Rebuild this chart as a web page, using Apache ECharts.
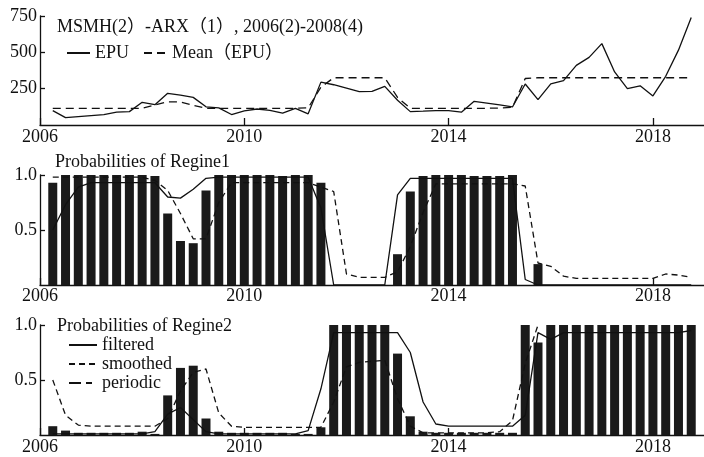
<!DOCTYPE html>
<html>
<head>
<meta charset="utf-8">
<script src="https://cdn.jsdelivr.net/npm/echarts@6/dist/echarts.min.js"></script>
<style>
  html, body { margin: 0; padding: 0; background: #fff; }
  #chart { width: 704px; height: 457px; }
</style>
</head>
<body>
<div id="chart"></div>
<script>
// quarterly axis, 2006Q1 .. 2019Q1
const quarters = [
  '2006Q1','2006Q2','2006Q3','2006Q4',
  '2007Q1','2007Q2','2007Q3','2007Q4',
  '2008Q1','2008Q2','2008Q3','2008Q4',
  '2009Q1','2009Q2','2009Q3','2009Q4',
  '2010Q1','2010Q2','2010Q3','2010Q4',
  '2011Q1','2011Q2','2011Q3','2011Q4',
  '2012Q1','2012Q2','2012Q3','2012Q4',
  '2013Q1','2013Q2','2013Q3','2013Q4',
  '2014Q1','2014Q2','2014Q3','2014Q4',
  '2015Q1','2015Q2','2015Q3','2015Q4',
  '2016Q1','2016Q2','2016Q3','2016Q4',
  '2017Q1','2017Q2','2017Q3','2017Q4',
  '2018Q1','2018Q2','2018Q3','2018Q4',
  '2019Q1'
];
const yearTicks = ['2006Q1', '2010Q1', '2014Q1', '2018Q1'];

const epu = [
  null, 99, 51, 58,
  65, 72, 88, 92,
  156, 140, 218, 205,
  190, 125, 118, 72,
  97, 110, 100, 81,
  115, 77, 295, 277,
  253, 229, 231, 266,
  170, 92, 95, 99,
  99, 88, 163, 151,
  138, 124, 282, 175,
  283, 305, 410, 465,
  560, 365, 250, 270,
  200, 335, 515, 740,
  null
];
const epuMean = [
  null, 115, 115, 115,
  115, 115, 115, 115,
  115, 138, 160, 158,
  135, 115, 115, 115,
  115, 115, 115, 115,
  115, 118, 260, 325,
  325, 325, 325, 325,
  190, 115, 115, 115,
  115, 115, 115, 115,
  117, 122, 320, 325,
  325, 325, 325, 325,
  325, 325, 325, 325,
  325, 325, 325, 325,
  null
];

const regime1Bars = [
  null, 0.93, 1.0, 1.0,
  1.0, 1.0, 1.0, 1.0,
  1.0, 0.99, 0.65, 0.40,
  0.38, 0.86, 1.0, 1.0,
  1.0, 1.0, 1.0, 0.99,
  1.0, 1.0, 0.93, 0,
  0, 0, 0, 0,
  0.28, 0.85, 0.99, 1.0,
  1.0, 1.0, 0.99, 0.99,
  0.99, 1.0, 0, 0.19,
  0, 0, 0, 0,
  0, 0, 0, 0,
  0, 0, 0, 0,
  null
];
const regime1Solid = [
  null, 0.50, 0.73, 0.89,
  0.93, 0.93, 0.93, 0.93,
  0.93, 0.93, 0.80, 0.79,
  0.87, 0.97, 0.98, 0.98,
  0.98, 0.98, 0.98, 0.98,
  0.98, 0.98, 0.70, 0,
  0, 0, 0, 0,
  0.82, 0.97, 0.97, 0.97,
  0.97, 0.97, 0.97, 0.97,
  0.97, 0.97, 0.05, 0,
  0, 0, 0, 0,
  0, 0, 0, 0,
  0, 0, 0, 0,
  null
];
const regime1Dashed = [
  null, 0.98, 0.98, 0.98,
  0.98, 0.98, 0.98, 0.98,
  0.98, 0.95, 0.86, 0.65,
  0.42, 0.42, 0.75, 0.93,
  0.93, 0.93, 0.93, 0.93,
  0.93, 0.93, 0.89, 0.85,
  0.10, 0.07, 0.07, 0.07,
  0.12, 0.35, 0.66, 0.92,
  0.92, 0.92, 0.92, 0.92,
  0.92, 0.92, 0.90, 0.20,
  0.17, 0.08, 0.06, 0.06,
  0.06, 0.06, 0.06, 0.06,
  0.06, 0.10, 0.09, 0.07,
  null
];

const regime2Bars = [
  null, 0.08, 0.04, 0.02,
  0.02, 0.02, 0.02, 0.02,
  0.03, 0.01, 0.36, 0.61,
  0.63, 0.15, 0.03, 0.02,
  0.02, 0.02, 0.02, 0.02,
  0.01, 0.01, 0.07, 1.0,
  1.0, 1.0, 1.0, 1.0,
  0.74, 0.17, 0.03, 0.02,
  0.02, 0.02, 0.02, 0.02,
  0.02, 0.02, 1.0, 0.84,
  1.0, 1.0, 1.0, 1.0,
  1.0, 1.0, 1.0, 1.0,
  1.0, 1.0, 1.0, 1.0,
  null
];
const regime2Filtered = [
  null, 0.01, 0.01, 0.01,
  0.01, 0.01, 0.01, 0.01,
  0.01, 0.03, 0.19, 0.25,
  0.14, 0.03, 0.01, 0.01,
  0.01, 0.01, 0.01, 0.01,
  0.01, 0.04, 0.42, 0.93,
  0.93, 0.93, 0.93, 0.93,
  0.93, 0.75, 0.30, 0.10,
  0.08, 0.08, 0.08, 0.08,
  0.08, 0.08, 0.18, 0.93,
  0.87, 0.93, 0.93, 0.93,
  0.93, 0.93, 0.93, 0.93,
  0.93, 0.93, 0.93, 0.95,
  null
];
const regime2Smoothed = [
  null, 0.50, 0.18, 0.09,
  0.08, 0.08, 0.08, 0.08,
  0.08, 0.08, 0.15, 0.40,
  0.57, 0.60, 0.20, 0.08,
  0.07, 0.07, 0.07, 0.07,
  0.07, 0.07, 0.07, 0.30,
  0.62, 0.66, 0.67, 0.68,
  0.33, 0.08, 0.02, 0.02,
  0.02, 0.02, 0.02, 0.02,
  0.03, 0.13, 0.65, 1.0,
  null, null, null, null,
  null, null, null, null,
  null, null, null, null,
  null
];

const serif = "'Liberation Serif', 'Times New Roman', 'Noto Sans CJK SC', serif";
const ink = '#111';
const txt = { fontFamily: serif, fontSize: 18, color: ink };
const noMarker = { color: 'rgba(0,0,0,0)', borderColor: 'rgba(0,0,0,0)', borderWidth: 0, opacity: 0 };

function xAxis(i, margin) {
  const showYear = (idx, val) => yearTicks.includes(val);
  return {
    type: 'category', gridIndex: i, data: quarters, boundaryGap: false,
    axisLine: { show: true, lineStyle: { color: ink, width: 1.3 } },
    axisTick: { show: true, inside: true, length: 7, interval: showYear, lineStyle: { color: ink, width: 1.3 } },
    axisLabel: Object.assign({ interval: showYear, margin: margin, formatter: v => v.slice(0, 4) }, txt),
    splitLine: { show: false }
  };
}

function yAxis(i, max, interval, fmt) {
  return {
    type: 'value', gridIndex: i, min: 0, max: max, interval: interval,
    axisLine: { show: true, lineStyle: { color: ink, width: 1.3 } },
    axisTick: { show: true, inside: true, length: 5, lineStyle: { color: ink, width: 1.3 } },
    axisLabel: Object.assign({ showMinLabel: false, margin: 3, formatter: fmt }, txt),
    splitLine: { show: false }
  };
}

function line(name, data, i, dash) {
  return {
    name: name, type: 'line', xAxisIndex: i, yAxisIndex: i, data: data,
    symbol: 'none', color: ink, z: 3,
    lineStyle: { color: ink, width: 1.3, type: dash || 'solid' }
  };
}

function bars(name, data, i) {
  return {
    name: name, type: 'bar', xAxisIndex: i, yAxisIndex: i, data: data,
    barWidth: 9, color: '#1a1a1a', z: 2
  };
}

const chart = echarts.init(document.getElementById('chart'));
chart.setOption({
  animation: false,
  backgroundColor: '#fff',
  title: [
    { text: 'MSMH(2）-ARX（1）, 2006(2)-2008(4)', left: 57, top: 18, padding: 0,
      textStyle: Object.assign({ fontWeight: 'normal', lineHeight: 18 }, txt) },
    { text: 'Probabilities of Regine1', left: 55, top: 153, padding: 0,
      textStyle: Object.assign({ fontWeight: 'normal', lineHeight: 18 }, txt) },
    { text: 'Probabilities of Regine2', left: 57, top: 317, padding: 0,
      textStyle: Object.assign({ fontWeight: 'normal', lineHeight: 18 }, txt) }
  ],
  legend: [
    { data: ['EPU', 'Mean（EPU）'], left: 66, top: 44, padding: 0,
      itemWidth: 23, itemHeight: 12, itemGap: 14, selectedMode: false,
      itemStyle: noMarker,
      textStyle: Object.assign({ lineHeight: 16 }, txt) },
    { data: ['filtered', 'smoothed', 'periodic'], orient: 'vertical', left: 68, top: 336, padding: 0,
      itemWidth: 28, itemHeight: 12, itemGap: 1, selectedMode: false,
      itemStyle: noMarker,
      textStyle: Object.assign({ lineHeight: 16 }, txt) }
  ],
  grid: [
    { left: 40, right: 0, top: 16, height: 109 },
    { left: 40, right: 0, top: 175, height: 110 },
    { left: 40, right: 0, top: 325, height: 110 }
  ],
  xAxis: [xAxis(0, 3), xAxis(1, 2), xAxis(2, 3)],
  yAxis: [
    yAxis(0, 750, 250, v => v),
    yAxis(1, 1, 0.5, v => v.toFixed(1)),
    yAxis(2, 1, 0.5, v => v.toFixed(1))
  ],
  series: [
    line('EPU', epu, 0),
    line('Mean（EPU）', epuMean, 0, [8, 5]),
    bars('regime1', regime1Bars, 1),
    line('regime1 solid', regime1Solid, 1),
    line('regime1 dashed', regime1Dashed, 1, [6, 4]),
    bars('regime2', regime2Bars, 2),
    line('filtered', regime2Filtered, 2),
    line('smoothed', regime2Smoothed, 2, [6, 4]),
    line('periodic', [], 2, [12, 5, 6, 10])
  ]
});
</script>
</body>
</html>
